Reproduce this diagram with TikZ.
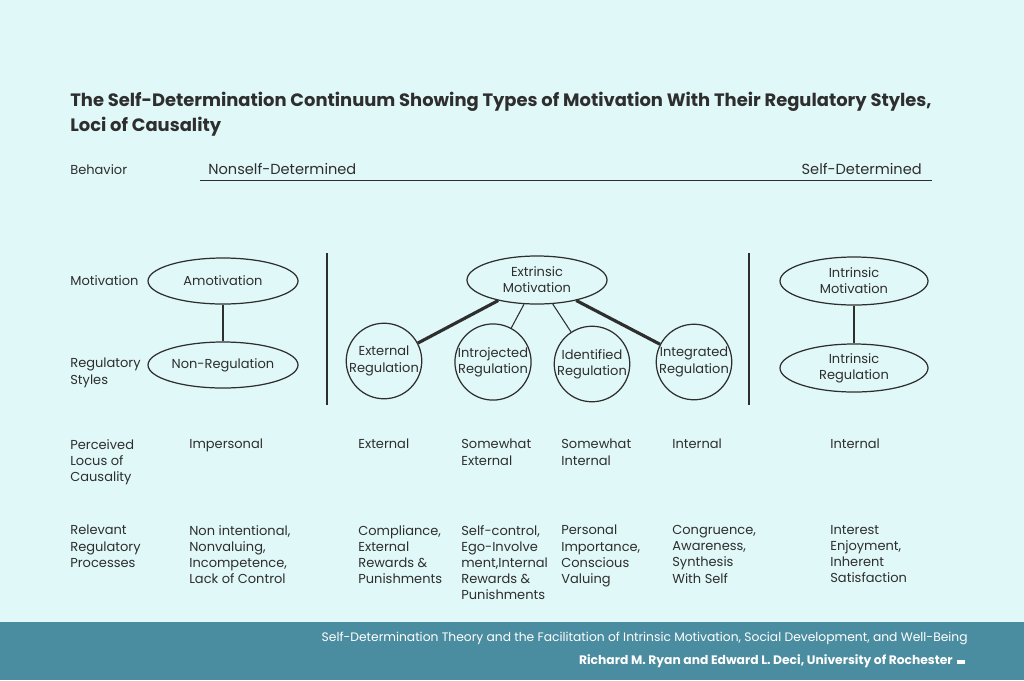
\documentclass[tikz,border=0pt]{standalone}
\usepackage{fontspec}
\setmainfont{Poppins}
\usetikzlibrary{positioning,shapes.geometric}
\definecolor{bgcyan}{HTML}{E1F8F8}
\definecolor{footteal}{HTML}{4B8DA0}
\definecolor{inkgray}{HTML}{2E2E2E}
\begin{document}
\begin{tikzpicture}[x=0.02cm,y=-0.02cm,font=\fontsize{7.4}{9.2}\selectfont,text=inkgray]
\tikzset{oval/.style = {ellipse, draw=inkgray, line width=0.7pt, minimum width=150*0.02cm, minimum height=46*0.02cm, align=center, inner sep=0pt}}
\tikzset{ring/.style = {circle, draw=inkgray, line width=0.7pt, minimum size=70*0.02cm, align=center, inner sep=0pt}}
\tikzset{lbl/.style = {anchor=north west, align=left, inner sep=0pt}}
\tikzset{bond/.style = {draw=inkgray, line width=0.6pt}}
\tikzset{heavy/.style = {draw=inkgray, line width=1.8pt}}

\fill[bgcyan] (0,0) rectangle (1024,680);
\fill[footteal] (0,622) rectangle (1024,680);

% title
\node[lbl, font=\fontsize{10.2}{14.2}\selectfont\bfseries] (title) at (70,92)
  {The Self-Determination Continuum Showing Types of Motivation With Their Regulatory Styles,\\Loci of Causality};

% behaviour row
\node[lbl] (behav) at (70,164) {Behavior};
\node[lbl, font=\fontsize{8.3}{10}\selectfont] (nonself) at (208,163) {Nonself-Determined};
\node[anchor=north east, inner sep=0pt, font=\fontsize{8.3}{10}\selectfont] (self) at (922,163) {Self-Determined};
\coordinate (axisL) at (200,180);
\coordinate (axisR) at (932,180);
\draw[draw=inkgray, line width=0.5pt] (axisL) -- (axisR);

% left column
\node[lbl] (motiv) at (70,275) {Motivation};
\node[lbl] (regst) at (70,358) {Regulatory\\Styles};
\node[oval] (amot) at (223,281) {Amotivation};
\node[oval] (nonreg) at (223,365) {Non-Regulation};
\draw[bond] (amot) -- (nonreg);

% dividers
\coordinate (divAt) at (327,253); \coordinate (divAb) at (327,405);
\coordinate (divBt) at (749,253); \coordinate (divBb) at (749,405);
\draw[bond] (divAt) -- (divAb);
\draw[bond] (divBt) -- (divBb);

% extrinsic
\node[oval, minimum width=140*0.02cm, minimum height=48*0.02cm] (extr) at (537,280) {Extrinsic\\Motivation};
\node[ring] (extreg) at (384,361) {External\\Regulation};
\node[ring] (introreg) at (493,362) {Introjected\\Regulation};
\node[ring] (identreg) at (592,364) {Identified\\Regulation};
\node[ring] (integreg) at (694,362) {Integrated\\Regulation};
\draw[heavy] (extr) -- (extreg);
\draw[bond] (extr) -- (introreg);
\draw[bond] (extr) -- (identreg);
\draw[heavy] (extr) -- (integreg);

% intrinsic
\node[oval, minimum width=148*0.02cm, minimum height=48*0.02cm] (intr) at (854,281) {Intrinsic\\Motivation};
\node[oval, minimum width=148*0.02cm, minimum height=48*0.02cm] (intrreg) at (854,368) {Intrinsic\\Regulation};
\draw[bond] (intr) -- (intrreg);

% locus row
\node[lbl] (locus) at (70,439) {Perceived\\Locus of\\Causality};
\node[lbl] (locA) at (189,439) {Impersonal};
\node[lbl] (locB) at (358,439) {External};
\node[lbl] (locC) at (461,439) {Somewhat\\External};
\node[lbl] (locD) at (561,439) {Somewhat\\Internal};
\node[lbl] (locE) at (672,439) {Internal};
\node[lbl] (locF) at (830,439) {Internal};

% processes row
\node[lbl] (proc) at (70,525) {Relevant\\Regulatory\\Processes};
\node[lbl] (procA) at (189,525) {Non intentional,\\Nonvaluing,\\Incompetence,\\Lack of Control};
\node[lbl] (procB) at (358,525) {Compliance,\\External\\Rewards \&\\Punishments};
\node[lbl] (procC) at (461,525) {Self-control,\\Ego-Involve\\ment,Internal\\Rewards \&\\Punishments};
\node[lbl] (procD) at (561,525) {Personal\\Importance,\\Conscious\\Valuing};
\node[lbl] (procE) at (672,525) {Congruence,\\Awareness,\\Synthesis\\With Self};
\node[lbl] (procF) at (830,525) {Interest\\Enjoyment,\\Inherent\\Satisfaction};

% footer
\node[anchor=east, inner sep=0pt, text=white, font=\fontsize{7}{8}\selectfont] (src) at (968,638)
  {Self-Determination Theory and the Facilitation of Intrinsic Motivation, Social Development, and Well-Being};
\node[anchor=east, inner sep=0pt, text=white, font=\fontsize{7}{8}\selectfont\bfseries] (auth) at (953,661)
  {Richard M. Ryan and Edward L. Deci, University of Rochester};
\fill[white] (957,660) rectangle (965,664);
\end{tikzpicture}
\end{document}
